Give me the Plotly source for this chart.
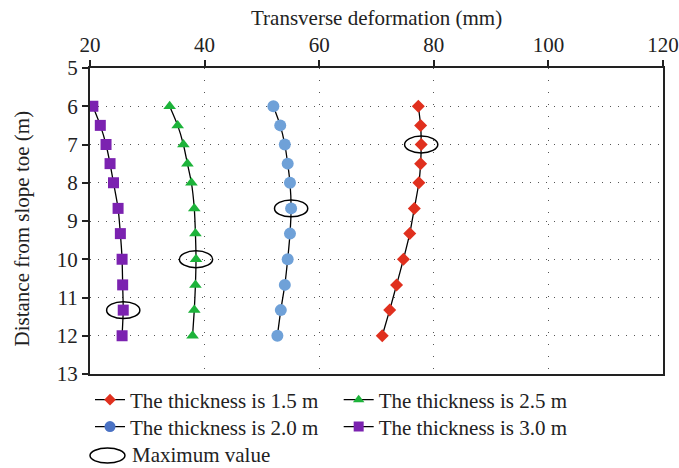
import plotly.graph_objects as go

# Depth below the slope crest at which deformation was read (m)
depth = [6, 6.5, 7, 7.5, 8, 8.67, 9.33, 10, 10.67, 11.33, 12]

# Transverse deformation (mm) for each anti-slide wall thickness
t15 = [77.3, 77.7, 77.8, 77.7, 77.4, 76.6, 75.8, 74.7, 73.5, 72.3, 71.0]
t20 = [52.0, 53.2, 54.0, 54.5, 54.9, 55.1, 54.9, 54.5, 54.0, 53.3, 52.7]
t25 = [33.9, 35.3, 36.3, 37.0, 37.7, 38.2, 38.4, 38.5, 38.4, 38.2, 37.9]
t30 = [20.5, 21.8, 22.8, 23.5, 24.1, 24.9, 25.3, 25.6, 25.7, 25.8, 25.6]

x_ticks = [20, 40, 60, 80, 100, 120]
y_ticks = [5, 6, 7, 8, 9, 10, 11, 12, 13]

series = [
    ("The thickness is 1.5 m", t15, "#E0301E", "diamond", 10, "#E0301E", "legend"),
    ("The thickness is 2.5 m", t25, "#1DB33A", "triangle-up", 11, "#1DB33A", "legend2"),
    ("The thickness is 2.0 m", t20, "#6FA1D8", "circle", 12, "#4A72C4", "legend3"),
    ("The thickness is 3.0 m", t30, "#7B22B0", "square", 11, "#7B22B0", "legend4"),
]

FONT = "Liberation Serif, Times New Roman, serif"
FS = 21
INK = "#222"

fig = go.Figure()
for name, vals, col, sym, size, legcol, leg in series:
    # data curve
    fig.add_trace(go.Scatter(
        x=vals, y=depth, mode="lines+markers", name=name, showlegend=False,
        line=dict(color="black", width=1.3, shape="spline", smoothing=0.6),
        marker=dict(symbol=sym, size=size, color=col, line=dict(width=0)),
    ))
    # legend key
    fig.add_trace(go.Scatter(
        x=[None], y=[None], mode="lines+markers", name=name, legend=leg,
        line=dict(color="black", width=1.3),
        marker=dict(symbol=sym, size=size - 1, color=legcol, line=dict(width=0)),
    ))
    # ellipse around the maximum deformation of each curve
    i = max(range(len(vals)), key=lambda k: vals[k])
    fig.add_shape(type="circle", xref="x", yref="y",
                  x0=vals[i] - 2.9, x1=vals[i] + 2.9,
                  y0=depth[i] - 0.22, y1=depth[i] + 0.22,
                  line=dict(color="black", width=1.5))

# "Maximum value" key
fig.add_shape(type="circle", xref="paper", yref="paper",
              x0=0.0, x1=0.061, y0=-0.291, y1=-0.242,
              line=dict(color="black", width=1.5))
fig.add_annotation(text="Maximum value", xref="paper", yref="paper",
                   x=0.07, y=-0.266, xanchor="left", yanchor="middle",
                   showarrow=False, font=dict(family=FONT, size=FS, color=INK))

# axis titles
fig.add_annotation(text="Transverse deformation (mm)", xref="paper", yref="paper",
                   x=0.5, y=1.163, xanchor="center", yanchor="middle",
                   showarrow=False, font=dict(family=FONT, size=FS, color=INK))
fig.add_annotation(text="Distance from slope toe (m)", xref="paper", yref="paper",
                   x=-0.119, y=0.475, xanchor="center", yanchor="middle", textangle=-90,
                   showarrow=False, font=dict(family=FONT, size=FS, color=INK))

leg_common = dict(orientation="h", xanchor="left", yanchor="middle",
                  font=dict(family=FONT, size=FS, color=INK),
                  bgcolor="rgba(0,0,0,0)", itemwidth=30, tracegroupgap=0)
fig.update_layout(
    legend=dict(x=0.0, y=-0.085, **leg_common),
    legend2=dict(x=0.434, y=-0.085, **leg_common),
    legend3=dict(x=0.0, y=-0.173, **leg_common),
    legend4=dict(x=0.434, y=-0.173, **leg_common),
)

axis_common = dict(
    showline=True, linecolor=INK, linewidth=2, mirror=True, automargin=False,
    ticks="outside", ticklen=6, tickwidth=1.5, tickcolor=INK,
    tickfont=dict(family=FONT, size=FS, color=INK),
    showgrid=True, gridcolor="#555", gridwidth=1.2, zeroline=False,
)
fig.update_xaxes(range=[20, 120], tickvals=x_ticks, side="top",
                 griddash="1px,11px", **axis_common)
fig.update_yaxes(range=[13, 5], tickvals=y_ticks,
                 griddash="1px,7px", **axis_common)

fig.update_layout(
    width=679, height=468,
    margin=dict(l=90, r=16, t=68, b=94),
    plot_bgcolor="white", paper_bgcolor="white",
    font=dict(family=FONT, size=FS, color=INK),
)

fig.write_html("out.html")
